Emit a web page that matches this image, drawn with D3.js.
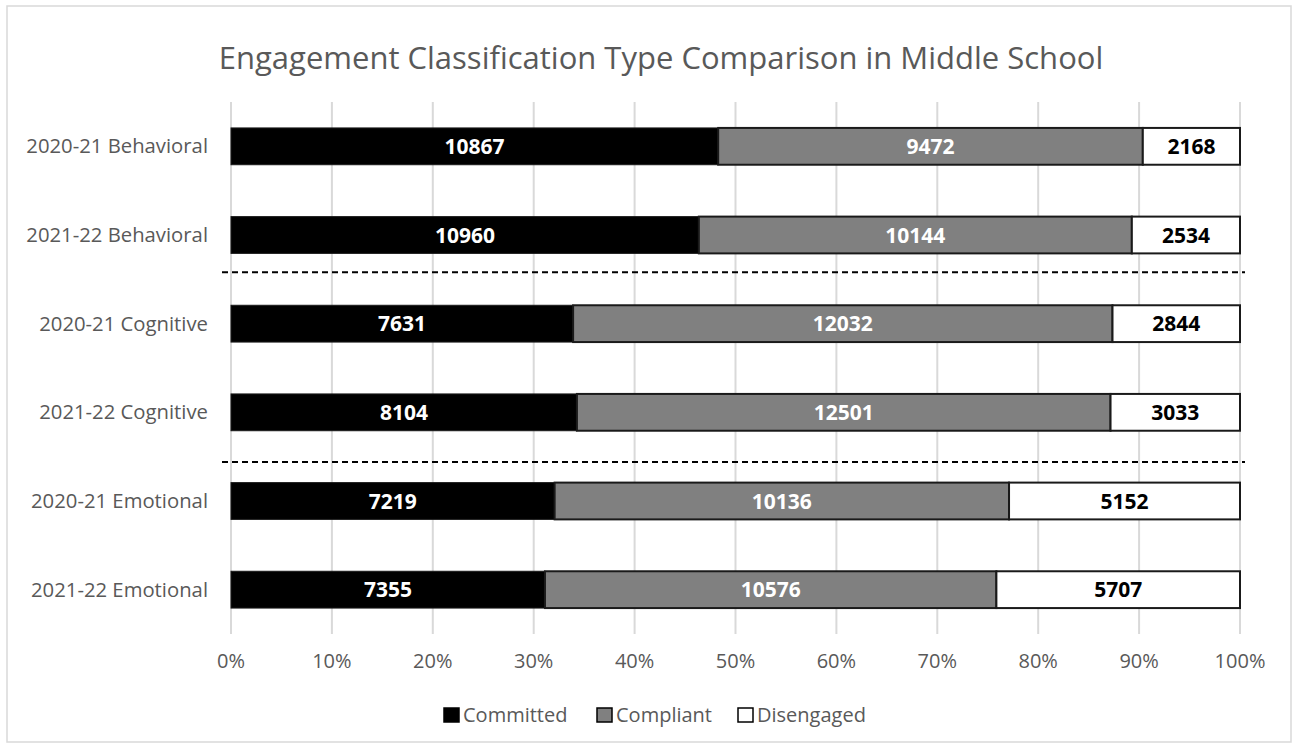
<!DOCTYPE html>
<html>
<head>
<meta charset="utf-8">
<script src="https://cdn.jsdelivr.net/npm/d3@7"></script>
<style>
  body { margin: 0; background: #fff; }
  text { font-family: "Open Sans", "Noto Sans", sans-serif; }
</style>
</head>
<body>
<svg width="1296" height="748"></svg>
<script>
var categories = ["2020-21 Behavioral", "2021-22 Behavioral", "2020-21 Cognitive",
                  "2021-22 Cognitive", "2020-21 Emotional", "2021-22 Emotional"];
var committed  = [10867, 10960, 7631, 8104, 7219, 7355];
var compliant  = [9472, 10144, 12032, 12501, 10136, 10576];
var disengaged = [2168, 2534, 2844, 3033, 5152, 5707];
var seriesNames = ["Committed", "Compliant", "Disengaged"];
var xTicks = [0, 0.1, 0.2, 0.3, 0.4, 0.5, 0.6, 0.7, 0.8, 0.9, 1];

var svg = d3.select("svg"),
    margin = {top: 102, right: 56, bottom: 114, left: 231},
    width = +svg.attr("width") - margin.left - margin.right,
    height = +svg.attr("height") - margin.top - margin.bottom;

var fills = {Committed: "#000000", Compliant: "#808080", Disengaged: "#ffffff"};
var labelColors = {Committed: "#ffffff", Compliant: "#ffffff", Disengaged: "#000000"};

// chart border
svg.append("rect")
    .attr("x", 7).attr("y", 6)
    .attr("width", 1284).attr("height", 736)
    .attr("fill", "#fff")
    .attr("stroke", "#d9d9d9")
    .attr("stroke-width", 1.5);

svg.append("text")
    .attr("x", 661).attr("y", 69)
    .attr("text-anchor", "middle")
    .attr("font-size", 31)
    .attr("fill", "#595959")
    .text("Engagement Classification Type Comparison in Middle School");

var rows = categories.map(function(c, i) {
    var total = committed[i] + compliant[i] + disengaged[i];
    return {cat: c, Committed: committed[i], Compliant: compliant[i], Disengaged: disengaged[i], total: total};
});

var x = d3.scaleLinear().domain([0, 1]).range([0, width]);
var y = d3.scaleBand().domain(categories).range([0, height]).paddingInner(0.585).paddingOuter(0.2925);

var g = svg.append("g").attr("transform", "translate(" + margin.left + "," + margin.top + ")");

// gridlines
g.selectAll(".grid").data(xTicks).enter().append("line")
    .attr("x1", function(d) { return x(d); })
    .attr("x2", function(d) { return x(d); })
    .attr("y1", 0).attr("y2", height)
    .attr("stroke", "#d9d9d9")
    .attr("stroke-width", 2);

// x axis labels
g.selectAll(".xlab").data(xTicks).enter().append("text")
    .attr("x", function(d) { return x(d); })
    .attr("y", height + 34)
    .attr("text-anchor", "middle")
    .attr("font-size", 20)
    .attr("fill", "#595959")
    .text(d3.format(".0%"));

// category labels
g.selectAll(".ylab").data(categories).enter().append("text")
    .attr("x", -23)
    .attr("y", function(d) { return y(d) + y.bandwidth() / 2; })
    .attr("dy", "0.35em")
    .attr("text-anchor", "end")
    .attr("font-size", 20.3)
    .attr("fill", "#595959")
    .text(function(d) { return d; });

var stack = d3.stack().keys(seriesNames).offset(d3.stackOffsetExpand);
var stacked = stack(rows);

var layers = g.selectAll(".layer").data(stacked).enter().append("g");

layers.selectAll("rect").data(function(s) { return s.map(function(p) { return {key: s.key, p: p}; }); })
    .enter().append("rect")
    .attr("x", function(d) { return x(d.p[0]); })
    .attr("y", function(d) { return y(d.p.data.cat); })
    .attr("width", function(d) { return x(d.p[1]) - x(d.p[0]); })
    .attr("height", y.bandwidth())
    .attr("fill", function(d) { return fills[d.key]; })
    .attr("stroke", "#1a1a1a")
    .attr("stroke-width", function(d) { return d.key === "Committed" ? 1 : 2; });

layers.selectAll("text").data(function(s) { return s.map(function(p) { return {key: s.key, p: p}; }); })
    .enter().append("text")
    .attr("x", function(d) { return x((d.p[0] + d.p[1]) / 2); })
    .attr("y", function(d) { return y(d.p.data.cat) + y.bandwidth() / 2; })
    .attr("dy", "0.36em")
    .attr("text-anchor", "middle")
    .attr("font-size", 21)
    .attr("font-weight", "bold")
    .attr("fill", function(d) { return labelColors[d.key]; })
    .text(function(d) { return d.p.data[d.key]; });

// dashed separators between engagement types
var separators = [
    {between: [categories[1], categories[2]], shift: -0.08},
    {between: [categories[3], categories[4]], shift: 0.06}
];
separators.forEach(function(s) {
    var mid = (y(s.between[0]) + y.bandwidth() + y(s.between[1])) / 2 + s.shift * y.step();
    g.append("line")
        .attr("x1", -9).attr("x2", width + 5)
        .attr("y1", mid).attr("y2", mid)
        .attr("stroke", "#000")
        .attr("stroke-width", 2)
        .attr("stroke-dasharray", "6,4");
});

// legend
var legendX = [444, 597, 738];
var legend = svg.append("g").attr("transform", "translate(0,715)");
var items = legend.selectAll("g").data(seriesNames).enter().append("g")
    .attr("transform", function(d, i) { return "translate(" + legendX[i] + ",0)"; });
items.append("rect")
    .attr("x", 0).attr("y", -7)
    .attr("width", 15).attr("height", 14)
    .attr("fill", function(d) { return fills[d]; })
    .attr("stroke", "#000")
    .attr("stroke-width", 1.5);
items.append("text")
    .attr("x", 19).attr("dy", "0.35em")
    .attr("font-size", 20)
    .attr("fill", "#595959")
    .text(function(d) { return d; });
</script>
</body>
</html>
